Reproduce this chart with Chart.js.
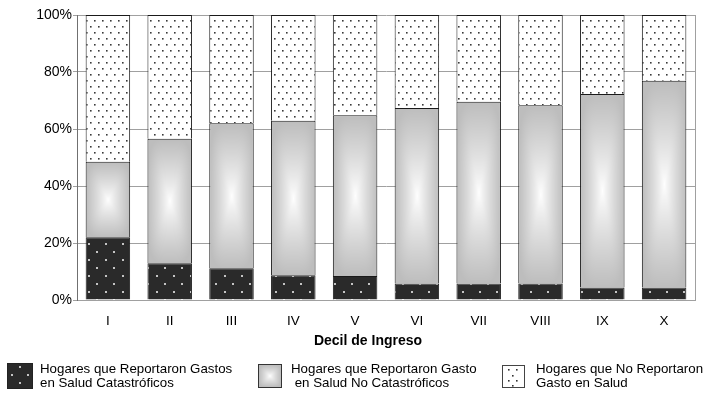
<!DOCTYPE html>
<html>
<head>
<meta charset="utf-8">
<script src="https://cdn.jsdelivr.net/npm/chart.js@4.4.1/dist/chart.umd.min.js"></script>
<style>
  html, body { margin: 0; padding: 0; background: #fff; }
  #wrap { position: relative; width: 704px; height: 394px; font-family: "Liberation Sans", Arial, sans-serif; color: #000; }
  #c { position: absolute; left: 0; top: 0; }
  .title { position: absolute; left: 268px; width: 200px; top: 332px; text-align: center; font-weight: bold; font-size: 14px; }
  .leg { position: absolute; font-size: 13.3px; line-height: 14px; white-space: pre; }
  .sw { position: absolute; }
</style>
</head>
<body>
<div id="wrap">
  <canvas id="c" width="704" height="394"></canvas>
  <div class="title" id="xtitle"></div>
  <canvas class="sw" id="sw0" width="26" height="26" style="left:7px;top:363px"></canvas>
  <div class="leg" id="lg0" style="left:40px;top:362px"></div>
  <canvas class="sw" id="sw1" width="24" height="24" style="left:258px;top:364px"></canvas>
  <div class="leg" id="lg1" style="left:291px;top:362px"></div>
  <canvas class="sw" id="sw2" width="23" height="23" style="left:502px;top:365px"></canvas>
  <div class="leg" id="lg2" style="left:536px;top:362px"></div>
</div>
<script>
// ---- data ----
const deciles = ['I', 'II', 'III', 'IV', 'V', 'VI', 'VII', 'VIII', 'IX', 'X'];
const catastroficos = [22.0, 12.9, 11.1, 8.7, 8.4, 5.8, 5.8, 5.8, 4.4, 4.4];
const noCatastroficos = [26.5, 43.7, 50.9, 54.2, 56.4, 61.6, 63.8, 62.5, 67.9, 72.5];
const sinGasto = [51.5, 43.4, 38.0, 37.1, 35.2, 32.6, 30.4, 31.7, 27.7, 23.1];
const yTicks = [0, 20, 40, 60, 80, 100];
const seriesNames = [
  'Hogares que Reportaron Gastos\nen Salud Catastróficos',
  'Hogares que Reportaron Gasto\n en Salud No Catastróficos',
  'Hogares que No Reportaron\nGasto en Salud'
];
const axisTitle = 'Decil de Ingreso';

// ---- patterns ----
function darkTile() {
  const c = document.createElement('canvas'); c.width = 17; c.height = 16;
  const g = c.getContext('2d');
  g.fillStyle = '#2a2a2a'; g.fillRect(0, 0, 17, 16);
  g.fillStyle = '#c4c4c4';
  g.fillRect(3, 3, 2, 2); g.fillRect(11, 11, 2, 2);
  return c;
}
function lightTile() {
  const c = document.createElement('canvas'); c.width = 8; c.height = 12;
  const g = c.getContext('2d');
  g.fillStyle = '#ffffff'; g.fillRect(0, 0, 8, 12);
  g.fillStyle = '#3a3a3a';
  g.fillRect(2, 2, 1.6, 1.6); g.fillRect(6, 8, 1.6, 1.6);
  return c;
}
function shadeCanvas(w, h) {
  const c = document.createElement('canvas');
  c.width = Math.max(1, Math.ceil(w)); c.height = Math.max(1, Math.ceil(h));
  const g = c.getContext('2d');
  const img = g.createImageData(c.width, c.height);
  const hw = c.width / 2, hh = c.height / 2;
  for (let y = 0; y < c.height; y++) {
    for (let x = 0; x < c.width; x++) {
      const dx = Math.abs(x + 0.5 - hw) / hw;
      const dy = Math.abs(y + 0.5 - hh) / hh;
      const t = Math.min(1, Math.pow(Math.pow(dx, 4) + Math.pow(dy, 4), 0.25));
      const v = Math.round(255 - 66 * Math.pow(t, 0.85));
      const k = (y * c.width + x) * 4;
      img.data[k] = v; img.data[k + 1] = v; img.data[k + 2] = v; img.data[k + 3] = 255;
    }
  }
  g.putImageData(img, 0, 0);
  return c;
}

const mainCtx = document.getElementById('c').getContext('2d');
const darkPattern = mainCtx.createPattern(darkTile(), 'repeat');
const lightPattern = mainCtx.createPattern(lightTile(), 'repeat');

const barPct = 0.72;
function shadeFill(context) {
  const chart = context.chart;
  const xs = chart.scales.x, ys = chart.scales.y;
  if (!xs || !ys || !chart.chartArea) return '#c8c8c8';
  const i = context.dataIndex;
  const step = Math.abs(xs.getPixelForValue(1) - xs.getPixelForValue(0));
  const w = step * barPct;
  const left = xs.getPixelForValue(i) - w / 2;
  const bottom = ys.getPixelForValue(catastroficos[i]);
  const top = ys.getPixelForValue(catastroficos[i] + noCatastroficos[i]);
  const h = bottom - top;
  if (!(w > 0) || !(h > 0)) return '#c8c8c8';
  const p = chart.ctx.createPattern(shadeCanvas(w, h), 'no-repeat');
  p.setTransform(new DOMMatrix([1, 0, 0, 1, left, top]));
  return p;
}

const rightBorder = {
  id: 'rightBorder',
  afterDraw(chart) {
    const a = chart.chartArea, g = chart.ctx;
    g.save();
    g.strokeStyle = '#a0a0a0'; g.lineWidth = 1;
    g.beginPath(); g.moveTo(Math.round(a.right) + 0.5, a.top); g.lineTo(Math.round(a.right) + 0.5, a.bottom); g.stroke();
    g.restore();
  }
};

new Chart(document.getElementById('c'), {
  type: 'bar',
  data: {
    labels: deciles,
    datasets: [
      { label: seriesNames[0], data: catastroficos, backgroundColor: darkPattern, borderColor: '#1a1a1a', borderWidth: 1 },
      { label: seriesNames[1], data: noCatastroficos, backgroundColor: shadeFill, borderColor: '#1a1a1a', borderWidth: 1 },
      { label: seriesNames[2], data: sinGasto, backgroundColor: lightPattern, borderColor: '#1a1a1a', borderWidth: 1 }
    ]
  },
  options: {
    responsive: false,
    animation: false,
    events: [],
    datasets: { bar: { categoryPercentage: 1, barPercentage: barPct } },
    layout: { padding: { top: 15, right: 9, left: 0, bottom: 0 } },
    plugins: { legend: { display: false }, tooltip: { enabled: false }, title: { display: false } },
    scales: {
      x: {
        stacked: true,
        grid: { display: false, drawTicks: false },
        border: { display: true, color: '#a0a0a0' },
        ticks: { color: '#000', font: { family: 'Liberation Sans', size: 13.5 }, padding: 13, maxRotation: 0 },
        afterFit(s) { s.height = 94; }
      },
      y: {
        stacked: true,
        min: 0, max: 100,
        afterBuildTicks(s) { s.ticks = yTicks.map(v => ({ value: v })); },
        grid: { color: '#a0a0a0', tickLength: 4, drawTicks: true },
        border: { display: true, color: '#707070' },
        ticks: { color: '#000', font: { family: 'Liberation Sans', size: 14 }, padding: 1, callback: v => v + '%' },
        afterFit(s) { s.width = 77; }
      }
    }
  },
  plugins: [rightBorder]
});

// ---- HTML axis title & legend ----
document.getElementById('xtitle').textContent = axisTitle;
for (let k = 0; k < 3; k++) document.getElementById('lg' + k).textContent = seriesNames[k];

(function () {
  const s0 = document.getElementById('sw0').getContext('2d');
  s0.fillStyle = '#2a2a2a'; s0.fillRect(0, 0, 26, 26);
  s0.fillStyle = '#c4c4c4';
  [[12, 3], [4, 11], [20, 11], [12, 19]].forEach(p => s0.fillRect(p[0], p[1], 2, 2));
  s0.strokeStyle = '#222'; s0.strokeRect(0.5, 0.5, 25, 25);

  const s1 = document.getElementById('sw1').getContext('2d');
  s1.drawImage(shadeCanvas(22, 22), 1, 1);
  s1.strokeStyle = '#333'; s1.lineWidth = 1; s1.strokeRect(0.5, 0.5, 23, 23);

  const s2 = document.getElementById('sw2').getContext('2d');
  s2.fillStyle = '#fff'; s2.fillRect(0, 0, 23, 23);
  s2.fillStyle = '#333';
  [[6, 4], [14, 4], [10, 10], [6, 15], [14, 15], [10, 20]].forEach(p => s2.fillRect(p[0], p[1], 1.6, 1.6));
  s2.strokeStyle = '#444'; s2.strokeRect(0.5, 0.5, 22, 22);
})();
</script>
</body>
</html>
